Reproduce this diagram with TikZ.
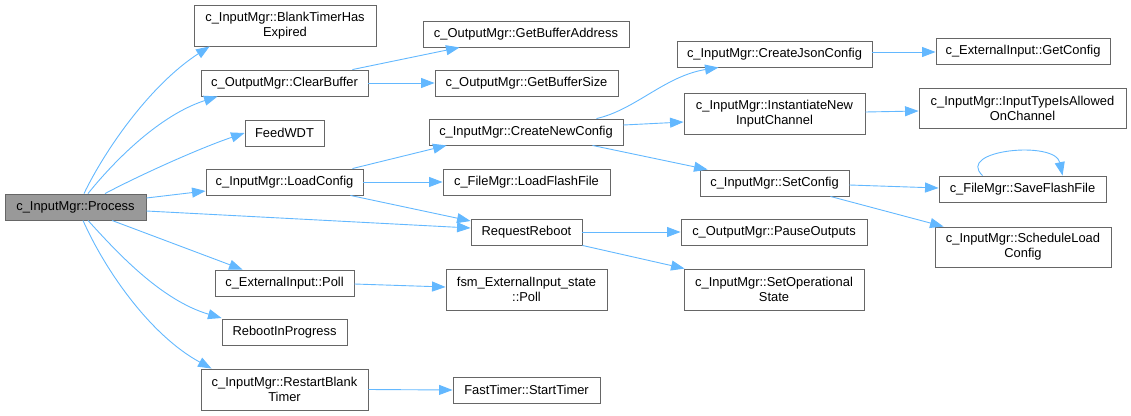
\documentclass[tikz,border=0pt]{standalone}
\usepackage{fontspec}
\setmainfont{Liberation Sans}
\usetikzlibrary{arrows.meta,calc}
\definecolor{edgeblue}{HTML}{63B8FF}
\definecolor{nodeborder}{HTML}{666666}
\definecolor{rootfill}{HTML}{999999}
\tikzset{
  fn/.style={draw=nodeborder, fill=white, line width=0.9pt, inner sep=0pt, align=center,
    font=\fontsize{12.9}{15}\selectfont, minimum height=26pt},
  fntwo/.style={fn, minimum height=41pt},
  root/.style={fn, fill=rootfill},
  call/.style={draw=edgeblue, line width=0.9pt, -{Triangle[length=13.5pt,width=10pt]}},
}
\begin{document}
\begin{tikzpicture}[x=1pt,y=-1pt]
\useasboundingbox (0,0) rectangle (1131,415);
% column 0
\node[root, minimum width=141pt] (proc) at (75.5,207) {c\_InputMgr::Process};
% column 1
\node[fntwo, minimum width=182pt] (bt) at (285,25.5) {c\_InputMgr::BlankTimerHas\\Expired};
\node[fn, minimum width=167pt] (cb) at (284.5,83) {c\_OutputMgr::ClearBuffer};
\node[fn, minimum width=79pt] (wdt) at (284.5,133) {FeedWDT};
\node[fn, minimum width=157pt] (lc) at (284.5,182) {c\_InputMgr::LoadConfig};
\node[fn, minimum width=139pt] (ep) at (284.5,283) {c\_ExternalInput::Poll};
\node[fn, minimum width=125pt] (rip) at (284.5,332) {RebootInProgress};
\node[fntwo, minimum width=167pt] (rbt) at (284.5,389.5) {c\_InputMgr::RestartBlank\\Timer};
% column 2
\node[fn, minimum width=206pt] (gba) at (526,34) {c\_OutputMgr::GetBufferAddress};
\node[fn, minimum width=183pt] (gbs) at (526.5,83) {c\_OutputMgr::GetBufferSize};
\node[fn, minimum width=194pt] (cnc) at (526,132) {c\_InputMgr::CreateNewConfig};
\node[fn, minimum width=167pt] (lff) at (526.5,182) {c\_FileMgr::LoadFlashFile};
\node[fn, minimum width=111pt] (rr) at (526.5,232) {RequestReboot};
\node[fntwo, minimum width=161pt] (fsm) at (526.5,289.5) {fsm\_ExternalInput\_state\\::Poll};
\node[fn, minimum width=147pt] (st) at (526.5,390) {FastTimer::StartTimer};
% column 3
\node[fn, minimum width=195pt] (cjc) at (774.5,54) {c\_InputMgr::CreateJsonConfig};
\node[fntwo, minimum width=181pt] (inic) at (774.5,113.5) {c\_InputMgr::InstantiateNew\\InputChannel};
\node[fn, minimum width=149pt] (sc) at (774.5,183) {c\_InputMgr::SetConfig};
\node[fn, minimum width=186pt] (po) at (774,232) {c\_OutputMgr::PauseOutputs};
\node[fntwo, minimum width=180pt] (sos) at (774,289.5) {c\_InputMgr::SetOperational\\State};
% column 4
\node[fn, minimum width=174pt] (gc) at (1023,51) {c\_ExternalInput::GetConfig};
\node[fntwo, minimum width=207pt, minimum height=40pt] (ita) at (1022.5,108) {c\_InputMgr::InputTypeIsAllowed\\OnChannel};
\node[fn, minimum width=167pt] (sff) at (1022.5,189) {c\_FileMgr::SaveFlashFile};
\node[fntwo, minimum width=176pt, minimum height=40pt] (slc) at (1023,247) {c\_InputMgr::ScheduleLoad\\Config};
% edges from Process
\draw[call] ($(proc.north)+(8.5,0)$) .. controls (105,150) and (150,85) .. ($(bt.south west)+(16,0)$);
\draw[call] ($(proc.north)+(12.5,0)$) .. controls (115,160) and (160,115) .. ($(cb.south west)+(17,0)$);
\draw[call] ($(proc.north)+(29.5,0)$) .. controls (140,175) and (200,148) .. (wdt.west);
\draw[call] ($(proc.east)+(0,-9)$) -- ($(lc.west)+(0,9)$);
\draw[call] ($(proc.east)+(0,4)$) -- ($(rr.west)+(0,-4)$);
\draw[call] ($(proc.south)+(36.5,0)$) -- ($(ep.north west)+(28,0)$);
\draw[call] ($(proc.south)+(12.5,0)$) .. controls (115,250) and (160,300) .. ($(rip.west)+(0,-14)$);
\draw[call] ($(proc.south)+(7.5,0)$) .. controls (105,270) and (150,335) .. ($(rbt.north west)+(11,0)$);
% column 1 -> 2
\draw[call] ($(cb.north east)+(-16,0)$) -- ($(gba.south west)+(37,0)$);
\draw[call] (cb.east) -- (gbs.west);
\draw[call] ($(lc.north east)+(-11,0)$) -- ($(cnc.south west)+(18,0)$);
\draw[call] (lc.east) -- (lff.west);
\draw[call] ($(lc.south east)+(-13,0)$) -- ($(rr.west)+(0,-11)$);
\draw[call] ($(ep.east)+(0,1)$) -- ($(fsm.west)+(0,-2.5)$);
\draw[call] (rbt.east) -- (st.west);
% column 2 -> 3
\draw[call] ($(cnc.north east)+(-27,0)$) .. controls (635,110) and (665,76) .. ($(cjc.south west)+(42,0)$);
\draw[call] ($(cnc.east)+(0,-7)$) -- ($(inic.west)+(0,8.5)$);
\draw[call] ($(cnc.south east)+(-31,0)$) -- ($(sc.north west)+(8,0)$);
\draw[call] (rr.east) -- (po.west);
\draw[call] (rr.south east) -- ($(sos.north west)+(1,0)$);
% column 3 -> 4
\draw[call] ($(cjc.east)+(0,-2)$) -- ($(gc.west)+(0,1)$);
\draw[call] ($(inic.east)+(0,-1.5)$) -- ($(ita.west)+(0,3)$);
\draw[call] ($(sc.east)+(0,2)$) -- ($(sff.west)+(0,-1)$);
\draw[call] ($(sc.south east)+(-19,0)$) -- ($(slc.north west)+(9,0)$);
% self loop
\draw[call] ($(sff.north west)+(44,0)$) .. controls (955,150) and (1055,140) .. ($(sff.north west)+(124,0)$);
\end{tikzpicture}
\end{document}
